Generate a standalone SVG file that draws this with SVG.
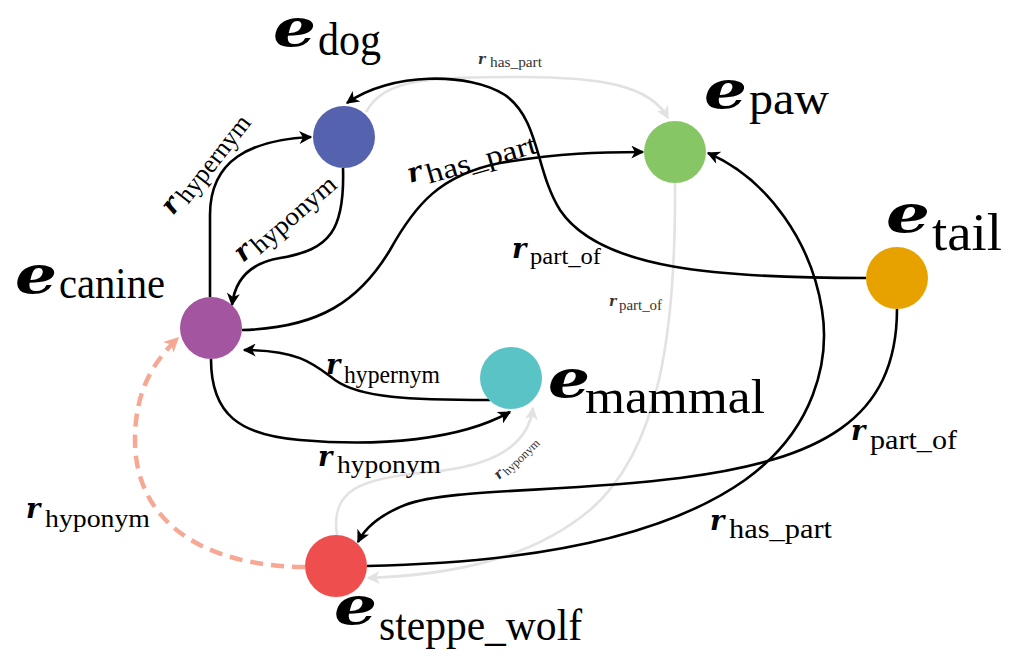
<svg xmlns="http://www.w3.org/2000/svg" width="1019" height="659" viewBox="0 0 1019 659">
<defs>
<style>
.edge{fill:none;stroke:#000;stroke-width:2.6}
.gray{fill:none;stroke:#e2e2e2;stroke-width:2.6}
.dash{fill:none;stroke:#f6a894;stroke-width:4.5;stroke-dasharray:13 8}
.e{font-family:'DejaVu Serif',serif;font-weight:bold;font-style:italic;font-size:52px;fill:#000}
.r{font-family:'DejaVu Serif',serif;font-weight:bold;font-style:italic;font-size:27px;fill:#000}
.rs{font-family:'DejaVu Serif',serif;font-weight:bold;font-style:italic;font-size:14px;fill:#333}
.sub{font-family:'Liberation Serif',serif;fill:#000}
.subs{font-family:'Liberation Serif',serif;fill:#333}
</style>
<marker id="ab" viewBox="0 0 10 10" refX="9" refY="5" markerWidth="18" markerHeight="13" markerUnits="userSpaceOnUse" orient="auto"><path d="M0,0 L10,5 L0,10 L2.8,5 z" fill="#000"/></marker>
<marker id="ag" viewBox="0 0 10 10" refX="9" refY="5" markerWidth="18" markerHeight="13" markerUnits="userSpaceOnUse" orient="auto"><path d="M0,0 L10,5 L0,10 L2.8,5 z" fill="#e2e2e2"/></marker>
<marker id="as" viewBox="0 0 10 10" refX="9" refY="5" markerWidth="20" markerHeight="15" markerUnits="userSpaceOnUse" orient="auto"><path d="M0,0 L10,5 L0,10 L2.8,5 z" fill="#f6a894"/></marker>
</defs>
<rect width="1019" height="659" fill="#fff"/>
<g id="connectors">
<g id="edge-dog-paw-gray"><path class="gray" d="M366,112 C385,78 430,77 520,77 C600,77 650,85 668,118" marker-end="url(#ag)"/>
<text class="rs" x="478" y="64">r</text><text class="subs" x="490" y="67" font-size="14" textLength="52" lengthAdjust="spacingAndGlyphs">has_part</text></g>
<g id="edge-paw-steppe-gray"><path class="gray" d="M675,183 C676,330 660,450 590,510 C530,560 450,575 368,578" marker-end="url(#ag)"/>
<text class="rs" x="609" y="306">r</text><text class="subs" x="619" y="310" font-size="14" textLength="43" lengthAdjust="spacingAndGlyphs">part_of</text></g>
<g id="edge-steppe-mammal-gray"><path class="gray" d="M337,535 C330,490 360,478 430,472 C495,466 528,445 533,408" marker-end="url(#ag)"/>
<g transform="translate(499,480) rotate(-44)"><text class="rs" x="0" y="0" font-size="13">r</text><text class="subs" x="9" y="3" font-size="12" textLength="46" lengthAdjust="spacingAndGlyphs">hyponym</text></g></g>
<g id="edge-canine-dog"><path class="edge" d="M210,297 L210,215 C210,160 250,140 311,137" marker-end="url(#ab)"/>
<g transform="translate(173,216) rotate(-52)"><text class="r" x="0" y="0">r</text><text class="sub" x="18" y="5" font-size="26" textLength="104" lengthAdjust="spacingAndGlyphs">hypernym</text></g></g>
<g id="edge-dog-canine"><path class="edge" d="M343,168 C345,230 330,250 280,258 C250,263 235,280 232,305" marker-end="url(#ab)"/>
<g transform="translate(243,263) rotate(-41)"><text class="r" x="0" y="0">r</text><text class="sub" x="18" y="5" font-size="26" textLength="104" lengthAdjust="spacingAndGlyphs">hyponym</text></g></g>
<g id="edge-canine-paw"><path class="edge" d="M242,330 C320,328 360,300 390,250 C415,205 440,175 500,163 C560,153 600,152 643,152" marker-end="url(#ab)"/>
<g transform="translate(410,183) rotate(-16)"><text class="r" x="0" y="0">r</text><text class="sub" x="18" y="6" font-size="28" textLength="114" lengthAdjust="spacingAndGlyphs">has_part</text></g></g>
<g id="edge-tail-dog"><path class="edge" d="M866,278 C720,278 600,270 560,210 C535,170 540,120 505,95 C470,72 390,72 347,103" marker-end="url(#ab)"/>
<text class="r" x="512" y="258">r</text><text class="sub" x="530" y="264" font-size="24" textLength="71" lengthAdjust="spacingAndGlyphs">part_of</text></g>
<g id="edge-tail-steppe"><path class="edge" d="M897,309 C897,420 820,460 680,478 C560,493 450,488 405,505 C380,515 365,528 358,542" marker-end="url(#ab)"/>
<text class="r" x="851" y="440">r</text><text class="sub" x="870" y="449" font-size="27" textLength="87" lengthAdjust="spacingAndGlyphs">part_of</text></g>
<g id="edge-steppe-paw"><path class="edge" d="M367,566 C520,563 660,540 745,480 C815,430 830,360 822,310 C812,245 770,180 708,153" marker-end="url(#ab)"/>
<text class="r" x="710" y="530">r</text><text class="sub" x="729" y="538" font-size="27" textLength="103" lengthAdjust="spacingAndGlyphs">has_part</text></g>
<g id="edge-mammal-canine"><path class="edge" d="M490,400 C410,400 360,398 335,380 C315,365 300,350 244,350" marker-end="url(#ab)"/>
<text class="r" x="326" y="374">r</text><text class="sub" x="344" y="383" font-size="25" textLength="96" lengthAdjust="spacingAndGlyphs">hypernym</text></g>
<g id="edge-canine-mammal"><path class="edge" d="M211,359 C211,415 240,435 300,440 C380,447 460,440 510,412" marker-end="url(#ab)"/>
<text class="r" x="318" y="466">r</text><text class="sub" x="337" y="473" font-size="26" textLength="104" lengthAdjust="spacingAndGlyphs">hyponym</text></g>
<g id="edge-steppe-canine-dashed"><path class="dash" d="M305,567 C200,566 135,520 135,440 C135,395 150,365 178,338" marker-end="url(#as)"/>
<text class="r" x="26" y="518">r</text><text class="sub" x="45" y="527" font-size="26" textLength="105" lengthAdjust="spacingAndGlyphs">hyponym</text></g>
</g>
<g id="node-dog"><circle cx="344" cy="137" r="31" fill="#5562ae"/>
<text class="e" x="273" y="46" font-size="44" textLength="43" lengthAdjust="spacingAndGlyphs">e</text><text class="sub" x="318" y="55" font-size="46" textLength="63" lengthAdjust="spacingAndGlyphs">dog</text></g>
<g id="node-paw"><circle cx="675" cy="152" r="31" fill="#87c664"/>
<text class="e" x="704" y="108" textLength="43" lengthAdjust="spacingAndGlyphs">e</text><text class="sub" x="749" y="114" font-size="46" textLength="80" lengthAdjust="spacingAndGlyphs">paw</text></g>
<g id="node-canine"><circle cx="211" cy="328" r="31" fill="#a4559f"/>
<text class="e" x="15" y="293" textLength="42" lengthAdjust="spacingAndGlyphs">e</text><text class="sub" x="59" y="298" font-size="44" textLength="106" lengthAdjust="spacingAndGlyphs">canine</text></g>
<g id="node-mammal"><circle cx="511" cy="378" r="31" fill="#5ac3c6"/>
<text class="e" x="548" y="397" textLength="42" lengthAdjust="spacingAndGlyphs">e</text><text class="sub" x="585" y="413" font-size="48" textLength="180" lengthAdjust="spacingAndGlyphs">mammal</text></g>
<g id="node-tail"><circle cx="897" cy="278" r="31" fill="#e7a200"/>
<text class="e" x="886" y="232" textLength="44" lengthAdjust="spacingAndGlyphs">e</text><text class="sub" x="932" y="250" font-size="52" textLength="70" lengthAdjust="spacingAndGlyphs">tail</text></g>
<g id="node-steppe_wolf"><circle cx="336" cy="566" r="31" fill="#ef4e4e"/>
<text class="e" x="334" y="624" textLength="43" lengthAdjust="spacingAndGlyphs">e</text><text class="sub" x="379" y="640" font-size="44" textLength="203" lengthAdjust="spacingAndGlyphs">steppe_wolf</text></g>
</svg>
